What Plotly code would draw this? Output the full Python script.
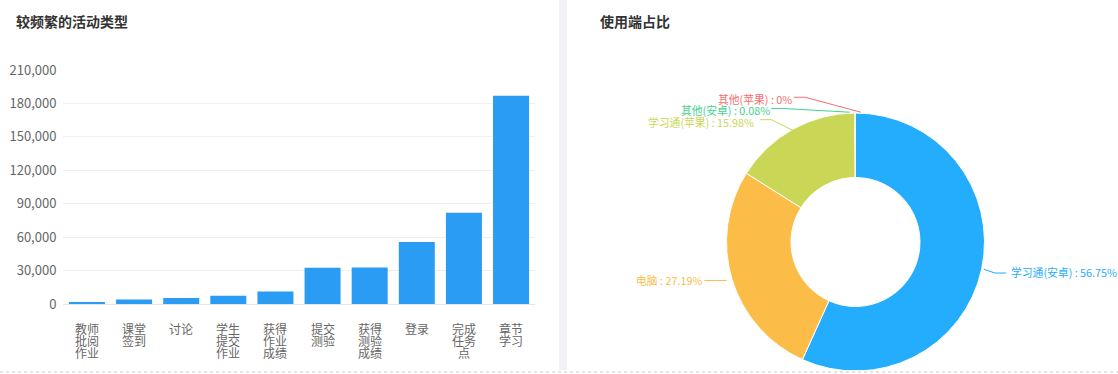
import math
import plotly.graph_objects as go

# ---------------- data ----------------
bar_title = "较频繁的活动类型"
activity_names = ["教师批阅作业", "课堂签到", "讨论", "学生提交作业", "获得作业成绩",
                  "提交测验", "获得测验成绩", "登录", "完成任务点", "章节学习"]
activity_counts = [1800, 4100, 5400, 7500, 11300, 32600, 32700, 55600, 82000, 187000]
y_tick_values = [0, 30000, 60000, 90000, 120000, 150000, 180000, 210000]

pie_title = "使用端占比"
client_names = ["学习通(安卓)", "电脑", "学习通(苹果)", "其他(安卓)", "其他(苹果)"]
client_shares = [56.75, 27.19, 15.98, 0.08, 0]
client_colors = ["#24adfc", "#fbbd47", "#cad655", "#44d08f", "#f86e6e"]

# ---------------- layout helpers ----------------
W, H = 1118, 374


def px(x):
    return x / W


def py(y):
    return 1 - y / H


FONT = "Noto Sans CJK SC, Microsoft YaHei, sans-serif"

fig = go.Figure()

fig.add_trace(go.Bar(
    x=activity_names, y=activity_counts,
    marker=dict(color="#2a9cf3", line=dict(width=0)),
    hoverinfo="skip", showlegend=False,
))

# pie geometry (pixels)
cx, cy, r = 855.5, 242.0, 129.0
fig.add_trace(go.Pie(
    labels=client_names, values=client_shares,
    marker=dict(colors=client_colors, line=dict(color="white", width=1)),
    hole=0.5, sort=False, direction="clockwise", rotation=0,
    textinfo="none", hoverinfo="skip", showlegend=False, automargin=False,
    domain=dict(x=[px(cx - r), px(cx + r)], y=[py(cy + r), py(cy - r)]),
))

shapes = []
annotations = []

# titles
annotations.append(dict(text=bar_title, x=px(14), y=py(21), xref="paper", yref="paper",
                        xanchor="left", yanchor="middle", showarrow=False,
                        font=dict(size=14, color="#333333", family=FONT, weight="bold")))
annotations.append(dict(text=pie_title, x=px(598), y=py(21), xref="paper", yref="paper",
                        xanchor="left", yanchor="middle", showarrow=False,
                        font=dict(size=14, color="#333333", family=FONT, weight="bold")))

# category labels, stacked two characters per line
for name in activity_names:
    lines = [name[i:i + 2] for i in range(0, len(name), 2)]
    for k, ln in enumerate(lines):
        annotations.append(dict(text=ln, x=name, xref="x", y=py(328 + 12 * k), yref="paper",
                                xanchor="center", yanchor="middle", showarrow=False,
                                borderpad=0,
                                font=dict(size=12, color="#666666", family=FONT)))

# pie outside labels with leader lines (ECharts-like layout)
len1, len2 = 12.0, 15.0
total = sum(client_shares)
cum = 0.0
items = []
for name, v, col in zip(client_names, client_shares, client_colors):
    mid = (cum + v / 2) / total * 2 * math.pi
    cum += v
    sx, sy = math.sin(mid), -math.cos(mid)
    p0 = (cx + r * sx, cy + r * sy)
    ny = cy + (r + len1) * sy
    d = 1 if sx > 1e-9 else -1
    items.append(dict(name=name, v=v, col=col, p0=p0, y=ny, dir=d))

# avoid overlap on each side
for side in (1, -1):
    grp = sorted([it for it in items if it["dir"] == side], key=lambda it: it["y"])
    for i in range(1, len(grp)):
        if grp[i]["y"] - grp[i - 1]["y"] < 11.5:
            grp[i]["y"] = grp[i - 1]["y"] + 11.5
    if len(grp) > 1:
        shift = 2.5
        for it in grp:
            it["y"] -= shift

R = r + len1 + len2
for it in items:
    dy = abs(it["y"] - cy)
    dX = math.sqrt(max(R * R - dy * dy, 0.0))
    x2 = cx + it["dir"] * dX
    x1 = x2 - it["dir"] * 14
    p0 = it["p0"]
    path = "M {:.2f},{:.2f} L {:.2f},{:.2f} L {:.2f},{:.2f}".format(
        px(p0[0]), py(p0[1]), px(x1), py(it["y"]), px(x2), py(it["y"]))
    shapes.append(dict(type="path", path=path, xref="paper", yref="paper",
                       line=dict(color=it["col"], width=1)))
    label = "{} : {:g}%".format(it["name"], it["v"])
    annotations.append(dict(text=label, x=px(x2 + 1 * it["dir"]), y=py(it["y"]),
                            xref="paper", yref="paper",
                            xanchor="left" if it["dir"] > 0 else "right", yanchor="middle",
                            showarrow=False, borderpad=0,
                            font=dict(size=10.8, color=it["col"], family=FONT)))

# panel separator strip and bottom edge
shapes.append(dict(type="rect", xref="paper", yref="paper", x0=px(559), x1=px(567),
                   y0=py(370), y1=1, fillcolor="#f1f2f5", line=dict(width=0), layer="below"))
shapes.append(dict(type="rect", xref="paper", yref="paper", x0=0, x1=1,
                   y0=0, y1=py(370), fillcolor="white", line=dict(width=0), layer="above"))
shapes.append(dict(type="line", xref="paper", yref="paper", x0=0, x1=1,
                   y0=py(372), y1=py(372), line=dict(color="#e4e4e4", width=2, dash="dot"),
                   layer="above"))

fig.update_layout(
    width=W, height=H,
    autosize=False,
    margin=dict(l=0, r=0, t=0, b=0, pad=0, autoexpand=False),
    paper_bgcolor="white", plot_bgcolor="white",
    font=dict(family=FONT),
    bargap=0.236,
    xaxis=dict(domain=[px(63.4), px(534.6)], showticklabels=False, showgrid=False,
               showline=False, zeroline=False, ticks="", automargin=False),
    yaxis=dict(domain=[py(304), py(70)], range=[0, 210000], tickvals=y_tick_values,
               tickformat=",d", showgrid=True, gridcolor="#efefef", gridwidth=1,
               zeroline=True, zerolinecolor="#e6e6e6", zerolinewidth=1,
               showline=False, ticks="", ticklabelstandoff=6, automargin=False,
               tickfont=dict(size=13, color="#666666", family=FONT)),
    shapes=shapes,
    annotations=annotations,
)

fig.write_html("out.html")
